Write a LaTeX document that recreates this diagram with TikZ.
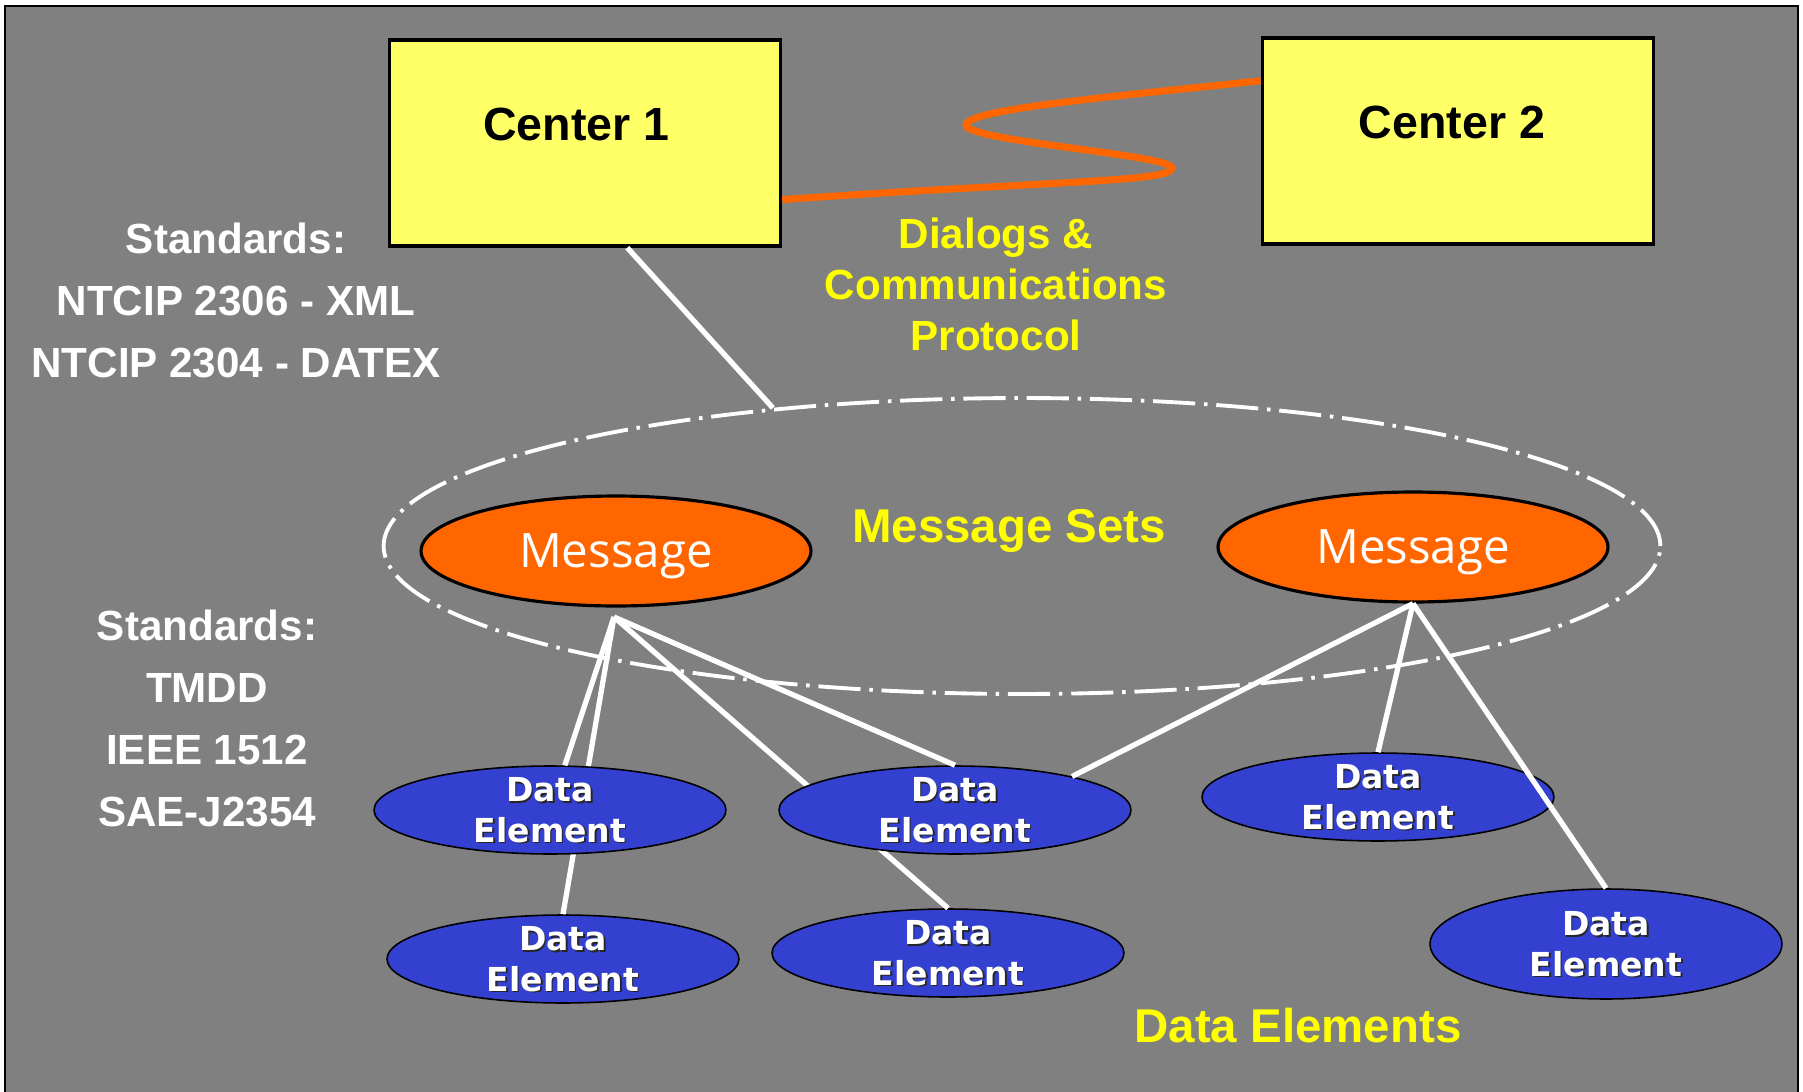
\documentclass[tikz,border=0pt]{standalone}
\usepackage{fontspec}
\setmainfont{Liberation Sans}
\newfontfamily\msgfont{Open Sans}
\newfontfamily\defont{DejaVu Sans}
\usetikzlibrary{shapes.geometric}

\definecolor{bggray}{RGB}{128,128,128}
\definecolor{boxyellow}{RGB}{255,255,102}
\definecolor{txtyellow}{RGB}{255,255,0}
\definecolor{msgorange}{RGB}{255,102,0}
\definecolor{deblue}{RGB}{51,64,208}

\begin{document}
\begin{tikzpicture}[x=0.02cm, y=-0.02cm,
	centerbox/.style={draw=black, line width=2pt, fill=boxyellow, minimum width=7.82cm, minimum height=4.12cm, inner sep=0pt, text depth=21pt, font=\bfseries\fontsize{26.5}{30}\selectfont},
	msg/.style={ellipse, draw=black, line width=1.8pt, fill=msgorange, minimum width=7.8cm, minimum height=2.2cm, inner sep=0pt, text=white, text depth=0pt, font=\msgfont\fontsize{27}{30}\selectfont},
	detext/.style={align=center, text=white, inner sep=0pt, font=\defont\bfseries\fontsize{18.8}{23}\selectfont},
	dataelem/.style={ellipse, draw=black, line width=0.9pt, fill=deblue, minimum width=7.04cm, minimum height=1.76cm, inner sep=0pt,
		label={[detext, text=black!85, xshift=0.9pt, yshift=-0.9pt]center:Data\\Element},
		label={[detext]center:Data\\Element}},
	link/.style={white, line width=3pt},
	wave/.style={msgorange, line width=4pt},
	whitetext/.style={white, align=center, font=\bfseries\fontsize{24}{35.3}\selectfont},
	yellowtext/.style={txtyellow, align=center, font=\bfseries\fontsize{24}{29}\selectfont},
	heading/.style={txtyellow, font=\bfseries\fontsize{27}{30}\selectfont}
]
\useasboundingbox (0,0) rectangle (1803,1092);

% frame
\draw[fill=bggray, line width=1.2pt] (5,6) rectangle (1798,1100);

% message set ring
\node[ellipse, draw=white, line width=2.2pt, dash pattern=on 24pt off 5pt on 2pt off 5pt, minimum width=25.54cm, minimum height=5.92cm, inner sep=0pt] (sets) at (1022,546) {};

% centers
\node[centerbox] (c1) at (585,143) {Center 1\hspace*{10pt}};
\node[centerbox] (c2) at (1458,141) {Center 2\hspace*{7pt}};

\draw[link] (c1.-68) -- (sets.151);
\draw[wave] (c1.-16) .. controls (1050,181) and (1172,182) .. (1172,168)
	.. controls (1172,155) and (966,141) .. (966,125)
	.. controls (966,109) and (1120,96) .. (c2.163);

% messages
\node[msg] (msgL) at (616,551) {Message};
\node[msg] (msgR) at (1413,547) {Message};
\coordinate (hubL) at (614,617);

% data elements
\node[dataelem] (de4) at (563,959) {};
\node[dataelem] (de5) at (948,953) {};
\draw[link] (hubL) -- (de4.north);
\draw[link] (hubL) -- (de5.north);

\node[dataelem] (de1) at (550,810) {};
\node[dataelem] (de2) at (955,810) {};
\draw[link] (hubL) -- (de1);
\draw[link] (hubL) -- (de2.north);
\draw[link] (msgR.south) -- (de2.16);

\node[dataelem] (de3) at (1378,797) {};
\draw[link] (msgR.south) -- (de3.north);
\node[dataelem, minimum height=2.2cm] (de6) at (1606,944) {};
\draw[link] (msgR.south) -- (de6.north);

% texts
\node[whitetext] (std1) at (236,300) {Standards:\\NTCIP 2306 - XML\\NTCIP 2304 - DATEX};
\node[whitetext] (std2) at (207,718) {Standards:\\TMDD\\IEEE 1512\\SAE-J2354};
\node[yellowtext] (dialogs) at (996,284) {Dialogs \&\\Communications\\Protocol};
\node[heading, anchor=base] (msgsets) at (1009,542) {Message Sets};
\node[heading] (delems) at (1298,1026) {Data Elements};

\end{tikzpicture}
\end{document}
